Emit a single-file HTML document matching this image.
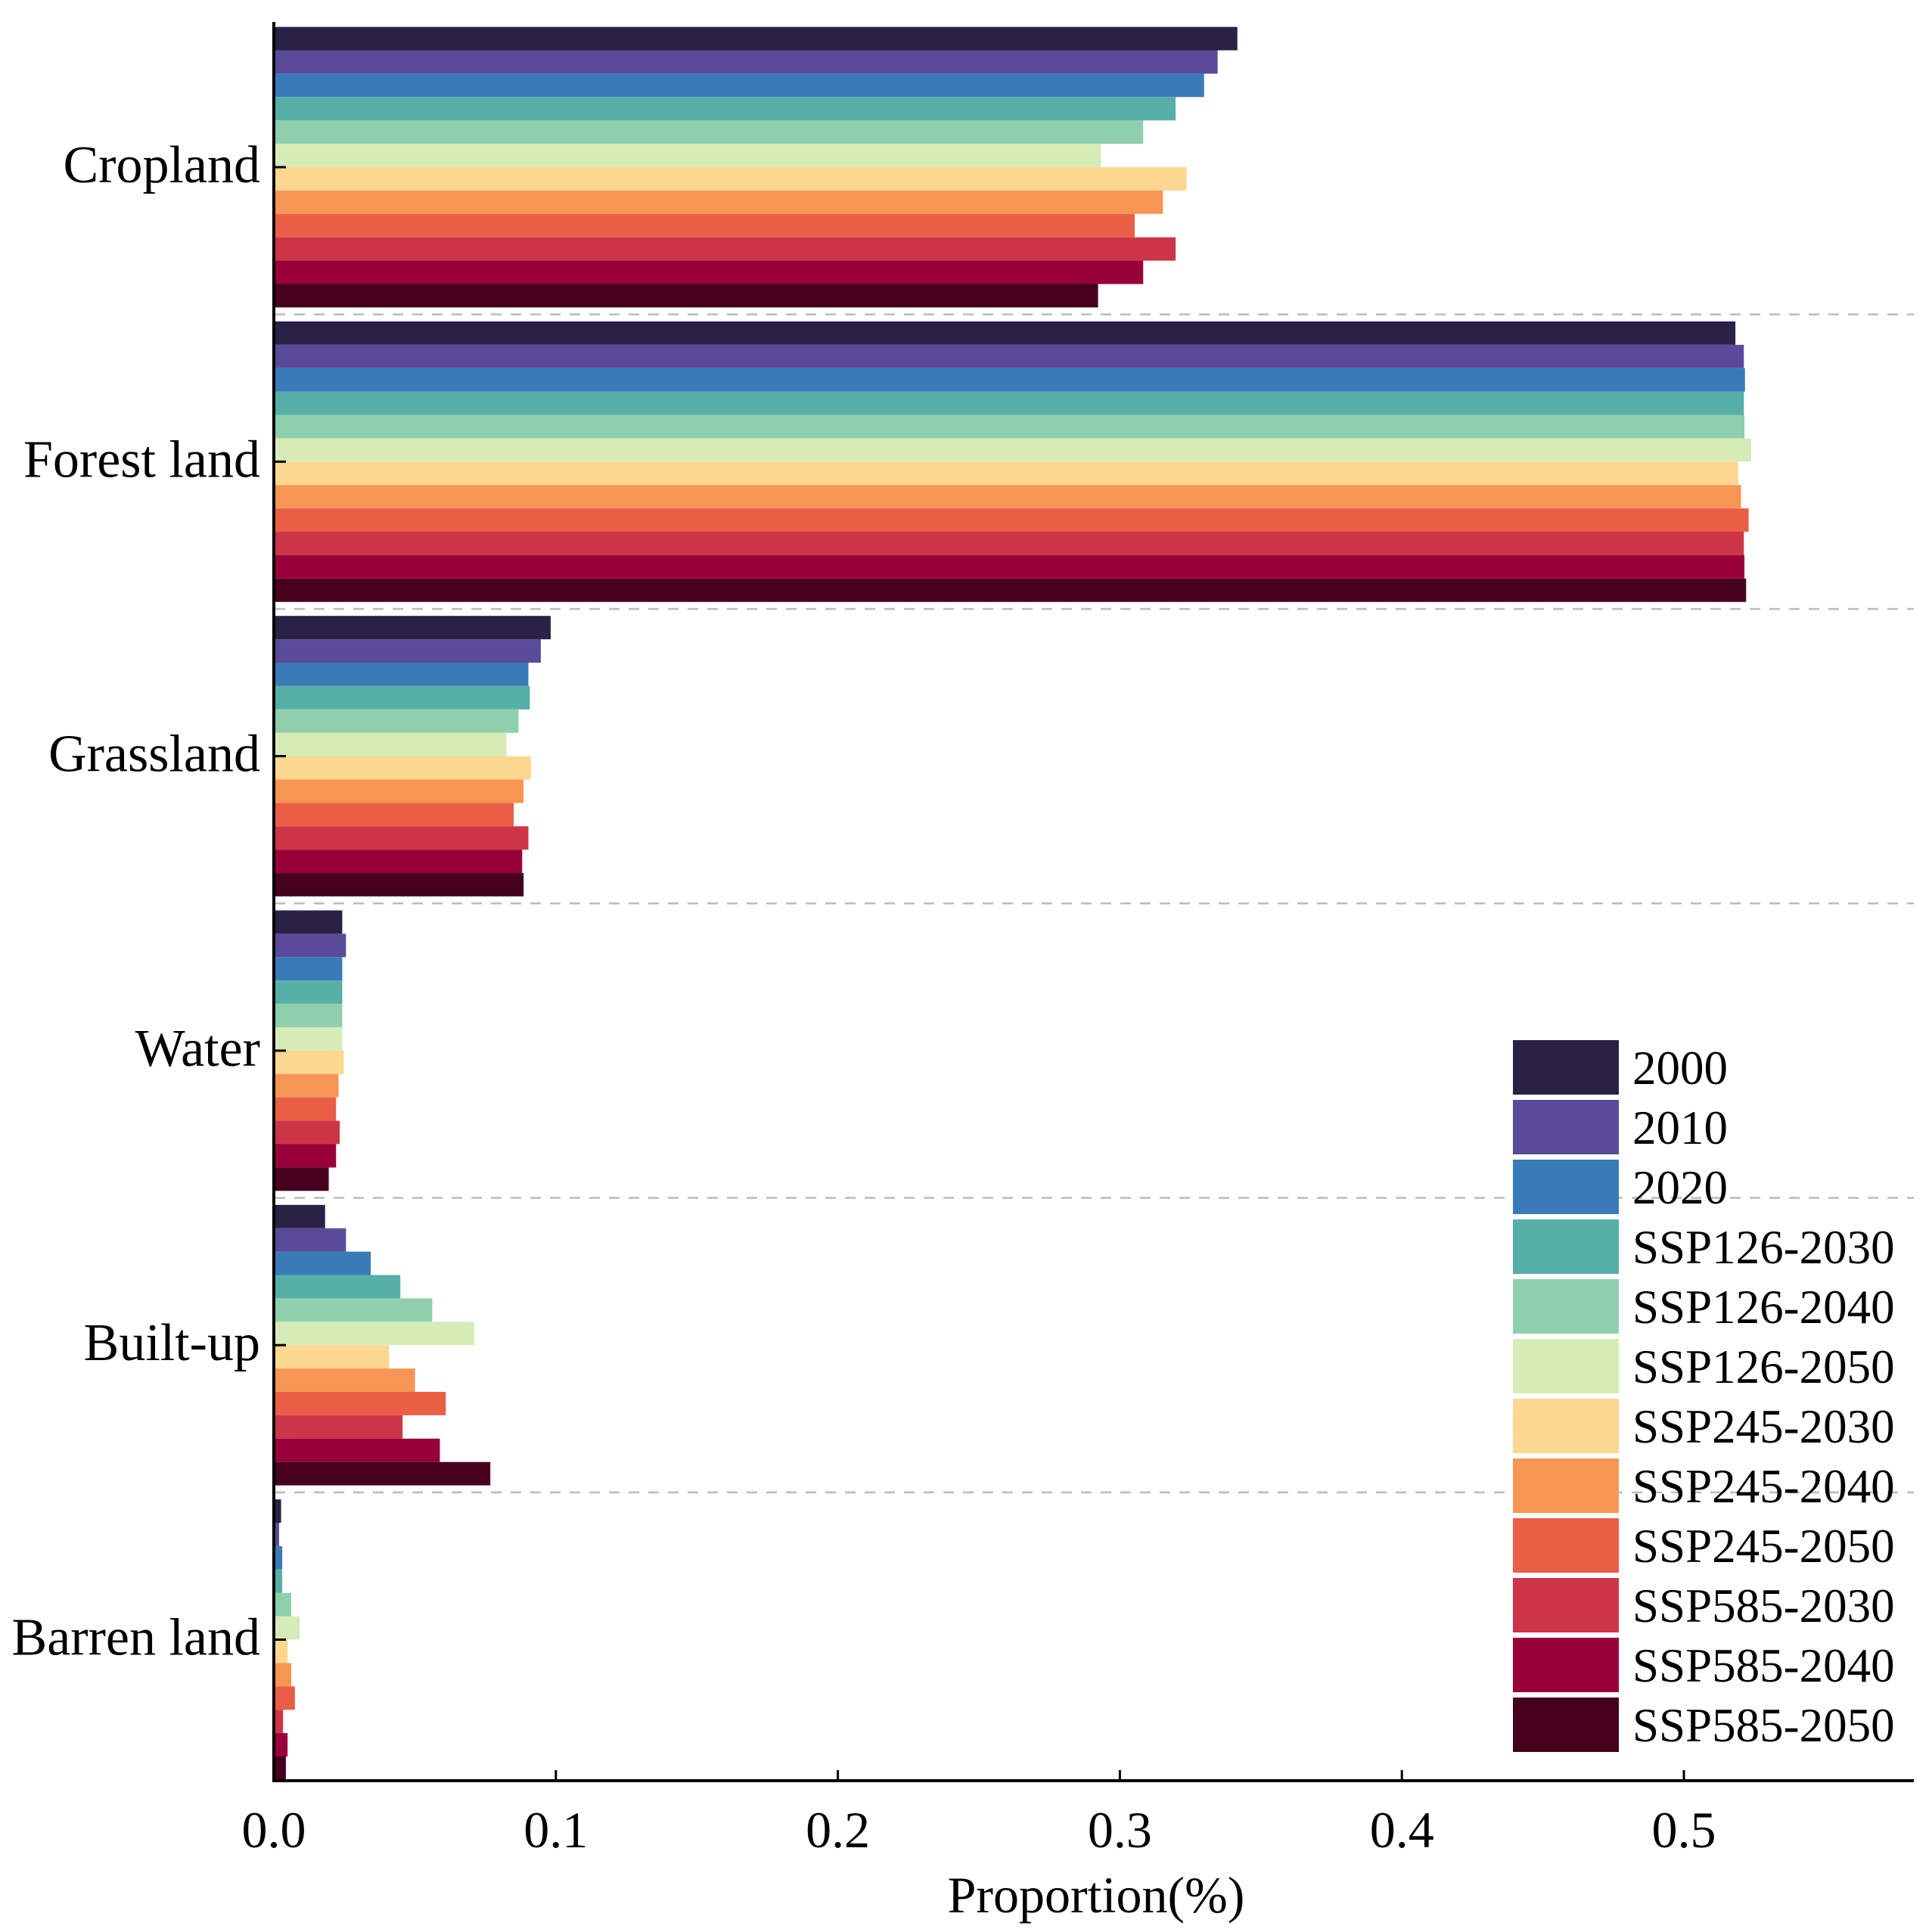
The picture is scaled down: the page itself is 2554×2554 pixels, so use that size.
<!DOCTYPE html>
<html><head><meta charset="utf-8">
<style>
html,body{margin:0;padding:0;background:#fff;}
svg{display:block;}
text{font-family:"Liberation Serif",serif;fill:#000;}
</style></head>
<body>
<svg id="chart" width="2554" height="2554" viewBox="0 0 2554 2554" xmlns="http://www.w3.org/2000/svg">
<g id="grid"></g>
<g id="bars"></g>
<g id="axes"></g>
<g id="legend"></g>
</svg>
<script>
const categories = ["Cropland","Forest land","Grassland","Water","Built-up","Barren land"];
const seriesNames = ["2000","2010","2020","SSP126-2030","SSP126-2040","SSP126-2050","SSP245-2030","SSP245-2040","SSP245-2050","SSP585-2030","SSP585-2040","SSP585-2050"];
const colors = ["#2a2146","#5a4a9a","#397bb8","#57b0a8","#8fcfae","#d6ecb8","#fdd68f","#f79654","#ea5e47","#cc3548","#98003a","#45001f"];
const cropland = [0.3414,0.3344,0.3296,0.3195,0.308,0.293,0.3234,0.315,0.305,0.3195,0.308,0.292];
const forest = [0.518,0.521,0.5214,0.521,0.5212,0.5236,0.519,0.52,0.5227,0.521,0.5212,0.5218];
const grassland = [0.0979,0.0944,0.090,0.0905,0.0865,0.0822,0.0909,0.0883,0.0848,0.090,0.0878,0.0883];
const water = [0.024,0.0253,0.024,0.024,0.024,0.024,0.0245,0.0227,0.0218,0.0231,0.0218,0.0192];
const builtup = [0.0179,0.0253,0.0341,0.0446,0.0559,0.0708,0.0406,0.0498,0.0607,0.0454,0.0586,0.0765];
const barren = [0.0023,0.0016,0.0027,0.0027,0.0059,0.0089,0.0046,0.0059,0.0072,0.003,0.0046,0.004];
const xTicks = [0,0.1,0.2,0.3,0.4,0.5];
const xTickLabels = ["0.0","0.1","0.2","0.3","0.4","0.5"];

const values = [cropland, forest, grassland, water, builtup, barren];
const NS = "http://www.w3.org/2000/svg";
const X0 = 363, PX_PER_UNIT = 3728;
const xScale = v => X0 + v * PX_PER_UNIT;
const C0 = 221, CSTEP = 389.3, BW = 30.9;
const yCenter = i => C0 + i * CSTEP;
const AXIS_Y = 2354, TOP_Y = 29, RIGHT_X = 2530;

function mk(tag, attrs, parent){
  const el = document.createElementNS(NS, tag);
  for (const k in attrs) el.setAttribute(k, attrs[k]);
  parent.appendChild(el);
  return el;
}
const gGrid = document.getElementById('grid');
const gBars = document.getElementById('bars');
const gAxes = document.getElementById('axes');
const gLeg = document.getElementById('legend');

for (let i = 0; i < categories.length - 1; i++) {
  const y = (yCenter(i) + yCenter(i+1)) / 2;
  const l = mk('line', {x1: X0, x2: RIGHT_X, y1: y, y2: y, stroke: '#bbbbbb', 'stroke-width': 2.5, 'stroke-dasharray': '14 12'}, gGrid);
  
  
}

values.forEach((arr, ci) => {
  const top = yCenter(ci) - BW * seriesNames.length / 2;
  arr.forEach((v, si) => {
    const r = mk('rect', {x: X0, y: top + si * BW, width: Math.max(0, xScale(v) - X0), height: BW, fill: colors[si]}, gBars);
    
    
  });
});

const yAxis = mk('line', {x1: 362, x2: 362, y1: TOP_Y, y2: AXIS_Y + 2, stroke: '#000', 'stroke-width': 4}, gAxes);


const xAxis = mk('line', {x1: 360, x2: RIGHT_X, y1: AXIS_Y, y2: AXIS_Y, stroke: '#000', 'stroke-width': 4}, gAxes);



xTicks.forEach((t, i) => {
  const x = xScale(t) - 1;
  if (i > 0) {
    const tk = mk('line', {x1: x, x2: x, y1: AXIS_Y, y2: AXIS_Y - 14, stroke: '#000', 'stroke-width': 3}, gAxes);
    
    
  }
  const tx = mk('text', {x: x, y: 2442, 'font-size': 68, 'text-anchor': 'middle'}, gAxes);
  tx.textContent = xTickLabels[i];
  
  
});
const xt = mk('text', {x: 1449, y: 2528, 'font-size': 68, 'text-anchor': 'middle'}, gAxes);
xt.textContent = 'Proportion(%)';



categories.forEach((c, i) => {
  const y = yCenter(i);
  const tk = mk('line', {x1: 362, x2: 378, y1: y, y2: y, stroke: '#000', 'stroke-width': 3}, gAxes);
  
  
  const tx = mk('text', {x: 344, y: y + 20, 'font-size': 70, 'text-anchor': 'end'}, gAxes);
  tx.textContent = c;
  
  
});

seriesNames.forEach((s, i) => {
  const y = 1375 + i * 79;
  const r = mk('rect', {x: 2000, y: y, width: 140, height: 72, fill: colors[i]}, gLeg);
  
  
  const t = mk('text', {x: 2158, y: y + 58, 'font-size': 63}, gLeg);
  t.textContent = s;
  
  
});
</script>
</body></html>
